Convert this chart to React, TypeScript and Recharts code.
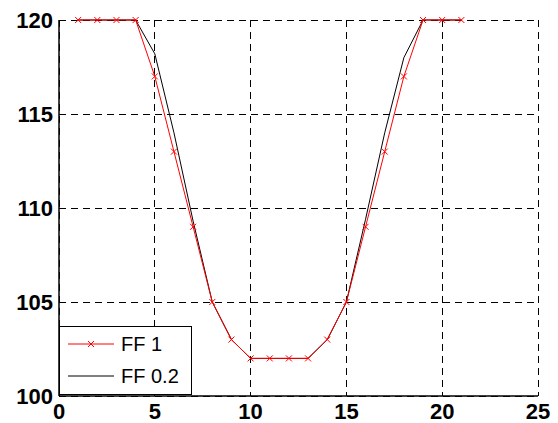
import React from "react"
import {
  LineChart,
  Line,
  XAxis,
  YAxis,
  CartesianGrid,
} from "recharts"

const xValues = [1, 2, 3, 4, 5, 6, 7, 8, 9, 10, 11, 12, 13, 14, 15, 16, 17, 18, 19, 20, 21]
const ff1Values = [120, 120, 120, 120, 117, 113, 109, 105, 103, 102, 102, 102, 102, 103, 105, 109, 113, 117, 120, 120, 120]
const ff02Values = [120, 120, 120, 120, 118.2, 114, 109.3, 105, 103, 102, 102, 102, 102, 103, 105, 109.4, 114, 118, 120, 120, 120]
const xTicks = [0, 5, 10, 15, 20, 25]
const yTicks = [100, 105, 110, 115, 120]

const seriesNames = ["FF 1", "FF 0.2"]

const data = xValues.map((x, i) => ({ x, ff1: ff1Values[i], ff02: ff02Values[i] }))

const FONT = "'Liberation Sans', Arial, sans-serif"

function Cross(props: any) {
  const { cx, cy } = props
  if (cx == null || cy == null) return null
  const s = 3
  return (
    <path
      d={`M${cx - s},${cy - s}L${cx + s},${cy + s}M${cx - s},${cy + s}L${cx + s},${cy - s}`}
      stroke="#ff0000"
      strokeWidth={1}
      fill="none"
    />
  )
}

// legend drawn on top of the chart, bottom-left corner like matlab's "SouthWest"
function LegendBox() {
  return (
    <div
      style={{
        position: "absolute",
        left: 59,
        top: 326,
        width: 133,
        height: 69,
        border: "1.5px solid #000",
        boxSizing: "border-box",
        background: "#fff",
      }}
    >
      <svg width={131} height={67} style={{ position: "absolute", left: 0, top: 0 }}>
        <line x1={8} x2={54} y1={17} y2={17} stroke="#ff0000" strokeWidth={1} />
        <Cross cx={31} cy={17} />
        <line x1={8} x2={54} y1={49} y2={49} stroke="#000" strokeWidth={1} />
        <text x={61} y={24} fill="#000" fontSize={20} fontFamily={FONT}>
          {seriesNames[0]}
        </text>
        <text x={61} y={56} fill="#000" fontSize={20} fontFamily={FONT}>
          {seriesNames[1]}
        </text>
      </svg>
    </div>
  )
}

export default function App() {
  const tickStyle = { fill: "#000", fontSize: 22, fontWeight: 700, fontFamily: FONT }
  return (
    <div style={{ position: "absolute", left: 0, top: 0, width: 558, height: 423, background: "#fff" }}>
      <LineChart
        width={558}
        height={423}
        data={data}
        margin={{ top: 20, right: 20, bottom: 0, left: 0 }}
      >
        <CartesianGrid stroke="#000" strokeDasharray="7 5" strokeWidth={1} shapeRendering="crispEdges" />
        <XAxis
          dataKey="x"
          type="number"
          domain={[0, 25]}
          ticks={xTicks}
          tickLine={false}
          tickSize={6}
          tickMargin={1}
          height={27}
          axisLine={{ stroke: "#000", strokeWidth: 1.5 }}
          tick={tickStyle}
          interval={0}
        />
        <XAxis
          xAxisId="top"
          orientation="top"
          dataKey="x"
          type="number"
          domain={[0, 25]}
          ticks={xTicks}
          tick={false}
          tickLine={false}
          height={0}
          axisLine={{ stroke: "#000", strokeWidth: 1.5 }}
        />
        <YAxis
          type="number"
          domain={[100, 120]}
          ticks={yTicks}
          tickLine={false}
          tickSize={6}
          tickMargin={0}
          width={59}
          axisLine={{ stroke: "#000", strokeWidth: 1.5 }}
          tick={tickStyle}
          interval={0}
        />
        <YAxis
          yAxisId="right"
          orientation="right"
          type="number"
          domain={[100, 120]}
          ticks={yTicks}
          tick={false}
          tickLine={false}
          width={0}
          axisLine={{ stroke: "#000", strokeWidth: 1.5 }}
        />
        <Line
          type="linear"
          dataKey="ff02"
          name={seriesNames[1]}
          stroke="#000"
          strokeWidth={1}
          dot={false}
          isAnimationActive={false}
        />
        <Line
          type="linear"
          dataKey="ff1"
          name={seriesNames[0]}
          stroke="#ff0000"
          strokeWidth={1}
          dot={<Cross />}
          isAnimationActive={false}
        />
      </LineChart>
      <LegendBox />
    </div>
  )
}
